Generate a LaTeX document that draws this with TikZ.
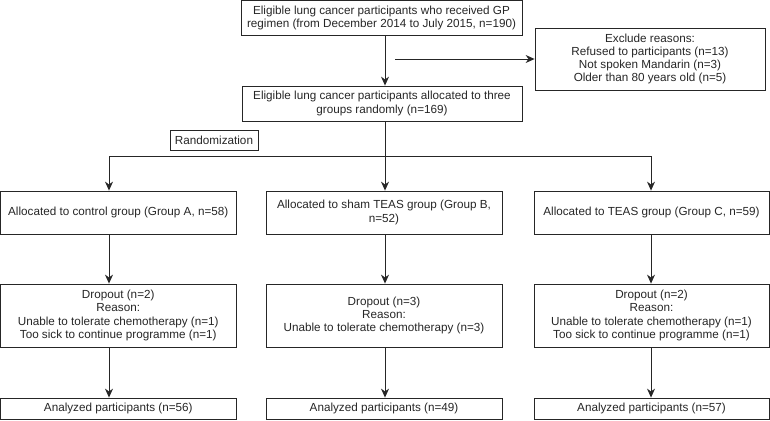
\documentclass[tikz,border=0pt]{standalone}
\usepackage{fontspec}
\setmainfont{Liberation Sans}
\usetikzlibrary{arrows.meta}

\begin{document}
\begin{tikzpicture}[x=1pt,y=-1pt,
    box/.style={draw=black!85, line width=0.8pt, align=center, inner sep=2pt,
      text=black!85, font=\fontsize{11.7}{13.3}\selectfont},
    arr/.style={draw=black!85, line width=0.9pt, -{Stealth[length=9pt,width=8pt]}},
    ln/.style={draw=black!85, line width=0.9pt}]

    \useasboundingbox (0,0) rectangle (770,420);

    % columns of the arrows
    \coordinate (colA) at (109,0);
    \coordinate (colB) at (385,0);
    \coordinate (colC) at (651,0);
    \coordinate (split) at (385,156);
    \coordinate (exstart) at (395,59);

    \node [box, minimum width=281, minimum height=35] (elig) at (381.5,18)
      {Eligible lung cancer participants who received GP\\regimen (from December 2014 to July 2015, n=190)};
    \node [box, minimum width=230, minimum height=62] (excl) at (650,59)
      {Exclude reasons:\\Refused to participants (n=13)\\Not spoken Mandarin (n=3)\\Older than 80 years old (n=5)};
    \node [box, minimum width=280, minimum height=35] (alloc) at (382,103.5)
      {Eligible lung cancer participants allocated to three\\groups randomly (n=169)};
    \node [box, minimum width=88, minimum height=20] (rand) at (214,140) {Randomization};

    \node [box, minimum width=235.5, minimum height=43] (gA) at (118.25,212.5)
      {Allocated to control group (Group A, n=58)};
    \node [box, minimum width=236, minimum height=43] (gB) at (384,212.5)
      {Allocated to sham TEAS group (Group B,\\n=52)};
    \node [box, minimum width=235, minimum height=43] (gC) at (651.5,212.5)
      {Allocated to TEAS group (Group C, n=59)};

    \node [box, minimum width=235.5, minimum height=63] (dA) at (118.25,315.5)
      {Dropout (n=2)\\Reason:\\Unable to tolerate chemotherapy (n=1)\\Too sick to continue programme (n=1)};
    \node [box, minimum width=236, minimum height=63] (dB) at (384,315.5)
      {Dropout (n=3)\\Reason:\\Unable to tolerate chemotherapy (n=3)};
    \node [box, minimum width=235, minimum height=63] (dC) at (651.5,315.5)
      {Dropout (n=2)\\Reason:\\Unable to tolerate chemotherapy (n=1)\\Too sick to continue programme (n=1)};

    \node [box, minimum width=235.5, minimum height=21] (aA) at (118.25,408.5)
      {Analyzed participants (n=56)};
    \node [box, minimum width=236, minimum height=21] (aB) at (384,408.5)
      {Analyzed participants (n=49)};
    \node [box, minimum width=235, minimum height=21] (aC) at (651.5,408.5)
      {Analyzed participants (n=57)};

    \draw [arr] (elig.south -| colB) -- (alloc.north -| colB);
    \draw [arr] (exstart) -- (excl.west);
    \draw [arr] (alloc.south -| colB) -- (gB.north -| colB);
    \draw [arr] (split) -| (gA.north -| colA);
    \draw [arr] (split) -| (gC.north -| colC);

    \draw [arr] (gA.south -| colA) -- (dA.north -| colA);
    \draw [arr] (gB.south -| colB) -- (dB.north -| colB);
    \draw [arr] (gC.south -| colC) -- (dC.north -| colC);
    \draw [arr] (dA.south -| colA) -- (aA.north -| colA);
    \draw [arr] (dB.south -| colB) -- (aB.north -| colB);
    \draw [arr] (dC.south -| colC) -- (aC.north -| colC);
  \end{tikzpicture}
\end{document}
